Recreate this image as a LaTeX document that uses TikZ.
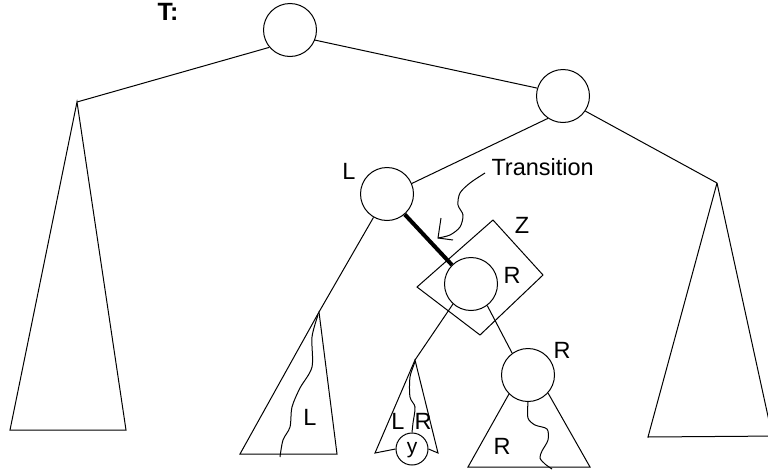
\documentclass[tikz,border=0pt]{standalone}
\usepackage{fontspec}
\setmainfont{Liberation Sans}
\begin{document}
\begin{tikzpicture}[x=1pt,y=-1pt,
  line width=1pt,
  tnode/.style={draw,circle,minimum size=53pt,inner sep=0pt},
  smallnode/.style={draw,circle,minimum size=32pt,inner sep=0pt},
  lbl/.style={inner sep=0pt,font=\fontsize{23.5}{26}\selectfont},
  thickedge/.style={line width=4pt},
  wavy/.style={line width=1pt}]
\useasboundingbox (0,0) rectangle (768,474);
% nodes
\node[tnode] (root) at (290,30) {};
\node[tnode] (rc) at (563,96) {};
\node[tnode] (Ln) at (387,194) {};
\node[tnode] (Rn) at (471,284) {};
\node[tnode] (R2) at (528,375) {};
\node[smallnode] (y) at (412,449) {};
% apex coordinates
\coordinate (la) at (77,102);
\coordinate (ra) at (717,183);
\coordinate (lta) at (319,312);
\coordinate (lra) at (415,360);
% tree edges
\draw (root.220) -- (la);
\draw (root.-22) -- (rc.163);
\draw (rc.-34) -- (ra);
\draw (rc.-124) -- (Ln.23);
\draw (Ln.-120) -- (lta);
\draw[thickedge] (Ln.-49) -- (Rn.135);
\draw (Rn.-132) -- (lra);
\draw (Rn.-53) -- (R2.126);
% big triangles
\draw (la) -- (10,430) -- (126,430) -- cycle;
\begin{scope}
\clip (0,0) rectangle (768,474);
\draw (ra) -- (648,437) -- (780,436);
\draw (ra) -- (771,430);
\end{scope}
% left small triangle
\draw (lta) -- (240,454) -- (337,454) -- cycle;
\draw[wavy] plot[smooth] coordinates {(318,315) (312,337) (312,367) (300,388) (292,407) (290,427) (283,440) (280,457)};
\node[lbl] (lL) at (310,417) {L};
% LR triangle
\draw (y.180) -- (375,453) -- (lra) -- (438,453) -- (y.0);
\draw[wavy] plot[smooth] coordinates {(415,362) (410,377) (410,397) (415,407) (413,423) (y.north)};
\node[lbl] (lrL) at (398,421) {L};
\node[lbl] (lrR) at (423,421) {R};
\node[inner sep=0pt,font=\fontsize{21}{24}\selectfont] (ylab) at (412,450) {y};
% R2 triangle
\draw (R2.-135) -- (468,467) -- (590,467) -- (R2.-42);
\draw[wavy] plot[smooth] coordinates {(R2.south) (528,418) (535,425) (547,429) (548,440) (542,451) (540,458) (545,464) (552,469)};
\node[lbl] (r2in) at (502,446) {R};
\node[lbl] (r2lab) at (562,350) {R};
% Z box
\draw (493,220) -- (543,275) -- (480,335) -- (417,287) -- cycle;
\node[lbl] (zlab) at (522,225) {Z};
% labels
\node[lbl] (Llab) at (349,171) {L};
\node[lbl] (Rlab) at (512,275) {R};
\node[lbl,anchor=base west] (tr) at (491,175) {Transition};
\node[inner sep=0pt,font=\fontsize{25}{28}\selectfont\bfseries] (T) at (168,12) {T:};
% transition arrow
\coordinate (tip) at (438,238);
\draw[wavy] plot[smooth] coordinates {(485,173) (470,183) (460,193) (458,205) (463,215) (460,227) (450,235) (tip)};
\draw (441,218) -- (tip) -- (453,240);
\end{tikzpicture}
\end{document}
